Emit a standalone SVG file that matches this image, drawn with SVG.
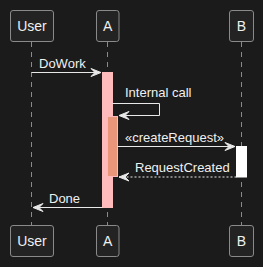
<svg xmlns="http://www.w3.org/2000/svg" width="263" height="267" viewBox="0 0 263 267">
<style>
.bg{fill:#1b1b1b}
.life{stroke:#8a8a8a;stroke-width:1;stroke-dasharray:5,5}
.box{fill:#232323;stroke:#8a8a8a;stroke-width:1}
.pt{font-family:"Liberation Sans",Arial,sans-serif;font-size:14px;fill:#f0f0f0;text-anchor:middle}
.mt{font-family:"Liberation Sans",Arial,sans-serif;font-size:13px;fill:#f0f0f0}
.msg{stroke:#e8e8e8;stroke-width:1;fill:none}
.ret{stroke:#e8e8e8;stroke-width:1;fill:none;stroke-dasharray:2,2}
.head{fill:#e8e8e8;stroke:#e8e8e8;stroke-width:1}
</style>
<rect class="bg" x="0" y="0" width="263" height="267"/>
<g id="lifelines">
<line class="life" x1="31.5" y1="42" x2="31.5" y2="225"/>
<line class="life" x1="107.5" y1="42" x2="107.5" y2="225"/>
<line class="life" x1="241.5" y1="42" x2="241.5" y2="225"/>
</g>
<g id="User">
<rect class="box" x="10.5" y="10.5" width="43" height="31" rx="2.5"/>
<text class="pt" x="32" y="31">User</text>
<rect class="box" x="10.5" y="225.5" width="43" height="31" rx="2.5"/>
<text class="pt" x="32" y="246">User</text>
</g>
<g id="A">
<rect class="box" x="96.5" y="10.5" width="22.5" height="31" rx="2.5"/>
<text class="pt" x="107.75" y="31">A</text>
<rect class="box" x="96.5" y="225.5" width="22.5" height="31" rx="2.5"/>
<text class="pt" x="107.75" y="246">A</text>
</g>
<g id="B">
<rect class="box" x="229.5" y="10.5" width="24" height="31" rx="2.5"/>
<text class="pt" x="241.5" y="31">B</text>
<rect class="box" x="229.5" y="225.5" width="24" height="31" rx="2.5"/>
<text class="pt" x="241.5" y="246">B</text>
</g>
<g id="activations">
<rect x="102.5" y="72.5" width="10" height="135" fill="#ffbbbb" stroke="#ffbbbb" stroke-width="1"/>
<rect x="107.5" y="116.5" width="10" height="60" fill="#e9967a" stroke="#ffbbbb" stroke-width="1"/>
<rect x="236.5" y="146.5" width="10" height="30.5" fill="#ffffff" stroke="#ffffff" stroke-width="1"/>
</g>
<g id="connectors">
<line class="msg" x1="31.5" y1="72.5" x2="101" y2="72.5"/>
<polygon class="head" points="91,68.5 101,72.5 91,76.5 95,72.5"/>
<text class="mt" x="39" y="68">DoWork</text>
<polyline class="msg" points="112.5,103.5 159.5,103.5 159.5,115.5 119,115.5"/>
<polygon class="head" points="129,111.5 119,115.5 129,119.5 125,115.5"/>
<text class="mt" x="125" y="97">Internal call</text>
<line class="msg" x1="117.5" y1="146.5" x2="235" y2="146.5"/>
<polygon class="head" points="225,142.5 235,146.5 225,150.5 229,146.5"/>
<text class="mt" x="125" y="141.5">«createRequest»</text>
<line class="ret" x1="236.5" y1="177" x2="119" y2="177"/>
<polygon class="head" points="129,173 119,177 129,181 125,177"/>
<text class="mt" x="135" y="171.5">RequestCreated</text>
<line class="msg" x1="102.5" y1="207.5" x2="33" y2="207.5"/>
<polygon class="head" points="43,203.5 33,207.5 43,211.5 39,207.5"/>
<text class="mt" x="49" y="202.5">Done</text>
</g>
</svg>
